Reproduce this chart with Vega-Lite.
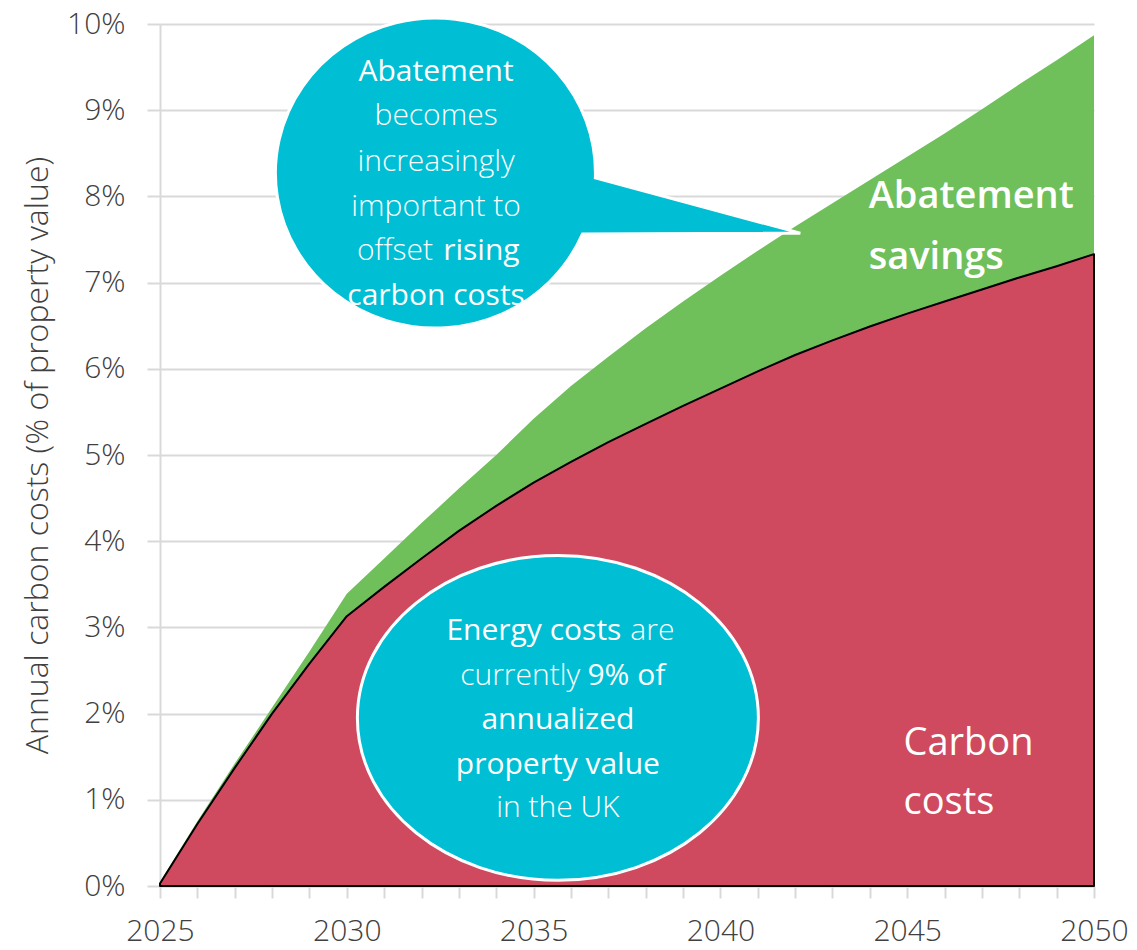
{
  "$schema": "https://vega.github.io/schema/vega-lite/v6.json",
  "autosize": {"type": "none"},
  "padding": {"left": 160, "top": 24, "right": 43, "bottom": 64},
  "width": 934,
  "height": 862,
  "background": "white",
  "config": {
    "view": {"stroke": null},
    "font": "Open Sans",
    "axis": {"labelFont": "Open Sans", "titleFont": "Open Sans"}
  },
  "datasets": {
    "costs": [
      {"year": 2025, "carbon": 0.03, "total": 0.05},
      {"year": 2026, "carbon": 0.72, "total": 0.75},
      {"year": 2027, "carbon": 1.37, "total": 1.42},
      {"year": 2028, "carbon": 2.00, "total": 2.07},
      {"year": 2029, "carbon": 2.58, "total": 2.72},
      {"year": 2030, "carbon": 3.13, "total": 3.39},
      {"year": 2031, "carbon": 3.47, "total": 3.80},
      {"year": 2032, "carbon": 3.80, "total": 4.21},
      {"year": 2033, "carbon": 4.12, "total": 4.61},
      {"year": 2034, "carbon": 4.41, "total": 5.00},
      {"year": 2035, "carbon": 4.68, "total": 5.42},
      {"year": 2036, "carbon": 4.92, "total": 5.80},
      {"year": 2037, "carbon": 5.15, "total": 6.14},
      {"year": 2038, "carbon": 5.36, "total": 6.47},
      {"year": 2039, "carbon": 5.57, "total": 6.78},
      {"year": 2040, "carbon": 5.77, "total": 7.08},
      {"year": 2041, "carbon": 5.97, "total": 7.37},
      {"year": 2042, "carbon": 6.16, "total": 7.65},
      {"year": 2043, "carbon": 6.33, "total": 7.92},
      {"year": 2044, "carbon": 6.49, "total": 8.19},
      {"year": 2045, "carbon": 6.64, "total": 8.46},
      {"year": 2046, "carbon": 6.78, "total": 8.73},
      {"year": 2047, "carbon": 6.92, "total": 9.01},
      {"year": 2048, "carbon": 7.06, "total": 9.30},
      {"year": 2049, "carbon": 7.19, "total": 9.58},
      {"year": 2050, "carbon": 7.33, "total": 9.87}
    ],
    "bubbleTop": [{"x": 2032.37, "y": 8.27}],
    "bubbleBottom": [{"x": 2035.65, "y": 1.95}],
    "lightCenter": [
      {"x": 2032.39, "y": 8.93, "label": "becomes"},
      {"x": 2032.39, "y": 8.40, "label": "increasingly"},
      {"x": 2032.39, "y": 7.88, "label": "important to"},
      {"x": 2035.65, "y": 0.91, "label": "in the UK"}
    ],
    "lightRight": [
      {"x": 2032.31, "y": 7.37, "label": "offset"},
      {"x": 2036.25, "y": 2.44, "label": "currently"}
    ],
    "lightLeft": [
      {"x": 2037.59, "y": 2.96, "label": "are"}
    ],
    "strongCenter": [
      {"x": 2032.39, "y": 9.44, "label": "Abatement"},
      {"x": 2032.39, "y": 6.85, "label": "carbon costs"},
      {"x": 2035.65, "y": 1.92, "label": "annualized"},
      {"x": 2035.65, "y": 1.40, "label": "property value"}
    ],
    "strongLeft": [
      {"x": 2032.58, "y": 7.37, "label": "rising"},
      {"x": 2036.44, "y": 2.44, "label": "9% of"}
    ],
    "strongRight": [
      {"x": 2037.35, "y": 2.96, "label": "Energy costs"}
    ],
    "savingsLabel": [
      {"x": 2043.97, "y": 7.99, "label": "Abatement"},
      {"x": 2043.97, "y": 7.29, "label": "savings"}
    ],
    "carbonLabel": [
      {"x": 2044.9, "y": 1.65, "label": "Carbon"},
      {"x": 2044.9, "y": 0.96, "label": "costs"}
    ]
  },
  "encoding": {
    "x": {
      "field": "year",
      "type": "quantitative",
      "scale": {"domain": [2025, 2050], "nice": false, "zero": false},
      "axis": {
        "title": null,
        "values": [2025,2026,2027,2028,2029,2030,2031,2032,2033,2034,2035,2036,2037,2038,2039,2040,2041,2042,2043,2044,2045,2046,2047,2048,2049,2050],
        "labelExpr": "datum.value % 5 === 0 ? datum.value : ''",
        "labelOverlap": false,
        "grid": false,
        "domain": true,
        "domainColor": "#d9d9d9",
        "domainWidth": 2,
        "ticks": true,
        "tickColor": "#d9d9d9",
        "tickWidth": 2,
        "tickSize": 12,
        "labelFontSize": 30,
        "labelFontWeight": 300,
        "labelColor": "#404040",
        "labelPadding": 18,
        "labelFlush": false
      }
    },
    "y": {
      "type": "quantitative",
      "scale": {"domain": [0, 10], "nice": false},
      "axis": {
        "title": "Annual carbon costs (% of property value)",
        "values": [0,1,2,3,4,5,6,7,8,9,10],
        "labelExpr": "datum.value + '%'",
        "grid": true,
        "gridColor": "#d9d9d9",
        "gridWidth": 2,
        "domain": true,
        "domainColor": "#d9d9d9",
        "domainWidth": 2,
        "tickColor": "#d9d9d9",
        "tickWidth": 2,
        "tickSize": 13,
        "labelFontSize": 30,
        "labelFontWeight": 300,
        "labelColor": "#404040",
        "labelPadding": 22,
        "titleFontSize": 32,
        "titleFontWeight": 300,
        "titleColor": "#404040",
        "titlePadding": 12
      }
    }
  },
  "layer": [
    {
      "data": {"name": "costs"},
      "mark": {"type": "area", "color": "#6fbf5a", "opacity": 1},
      "encoding": {"y": {"field": "total"}}
    },
    {
      "data": {"name": "costs"},
      "mark": {"type": "area", "color": "#cf4a5f", "opacity": 1, "stroke": "black", "strokeWidth": 2, "strokeJoin": "round"},
      "encoding": {"y": {"field": "carbon"}}
    },
    {
      "data": {"name": "bubbleTop"},
      "mark": {"type": "point", "shape": "M 1 0.03 A 1 0.969 0 1 0 0.92 0.38 L 2.281 0.375 Z", "size": 102400, "filled": true, "fill": "#00bed3", "opacity": 1, "stroke": "white", "strokeWidth": 3},
      "encoding": {"x": {"field": "x"}, "y": {"field": "y"}}
    },
    {
      "data": {"name": "bubbleBottom"},
      "mark": {"type": "point", "shape": "M -1 0 A 1 0.81 0 0 0 1 0 A 1 0.81 0 0 0 -1 0 Z", "size": 160800, "filled": true, "fill": "#00bed3", "opacity": 1, "stroke": "white", "strokeWidth": 3},
      "encoding": {"x": {"field": "x"}, "y": {"field": "y"}}
    },
    {
      "data": {"name": "lightCenter"},
      "mark": {"type": "text", "align": "center", "baseline": "middle", "fontSize": 30, "fontWeight": 300, "color": "white", "font": "Open Sans"},
      "encoding": {"x": {"field": "x"}, "y": {"field": "y"}, "text": {"field": "label"}}
    },
    {
      "data": {"name": "lightRight"},
      "mark": {"type": "text", "align": "right", "baseline": "middle", "fontSize": 30, "fontWeight": 300, "color": "white", "font": "Open Sans"},
      "encoding": {"x": {"field": "x"}, "y": {"field": "y"}, "text": {"field": "label"}}
    },
    {
      "data": {"name": "lightLeft"},
      "mark": {"type": "text", "align": "left", "baseline": "middle", "fontSize": 30, "fontWeight": 300, "color": "white", "font": "Open Sans"},
      "encoding": {"x": {"field": "x"}, "y": {"field": "y"}, "text": {"field": "label"}}
    },
    {
      "data": {"name": "strongCenter"},
      "mark": {"type": "text", "align": "center", "baseline": "middle", "fontSize": 30, "fontWeight": 400, "color": "white", "font": "Open Sans"},
      "encoding": {"x": {"field": "x"}, "y": {"field": "y"}, "text": {"field": "label"}}
    },
    {
      "data": {"name": "strongLeft"},
      "mark": {"type": "text", "align": "left", "baseline": "middle", "fontSize": 30, "fontWeight": 400, "color": "white", "font": "Open Sans"},
      "encoding": {"x": {"field": "x"}, "y": {"field": "y"}, "text": {"field": "label"}}
    },
    {
      "data": {"name": "strongRight"},
      "mark": {"type": "text", "align": "right", "baseline": "middle", "fontSize": 30, "fontWeight": 400, "color": "white", "font": "Open Sans"},
      "encoding": {"x": {"field": "x"}, "y": {"field": "y"}, "text": {"field": "label"}}
    },
    {
      "data": {"name": "savingsLabel"},
      "mark": {"type": "text", "align": "left", "baseline": "middle", "fontSize": 38, "fontWeight": 600, "color": "white", "font": "Open Sans"},
      "encoding": {"x": {"field": "x"}, "y": {"field": "y"}, "text": {"field": "label"}}
    },
    {
      "data": {"name": "carbonLabel"},
      "mark": {"type": "text", "align": "left", "baseline": "middle", "fontSize": 38, "fontWeight": 400, "color": "white", "font": "Open Sans"},
      "encoding": {"x": {"field": "x"}, "y": {"field": "y"}, "text": {"field": "label"}}
    }
  ]
}
